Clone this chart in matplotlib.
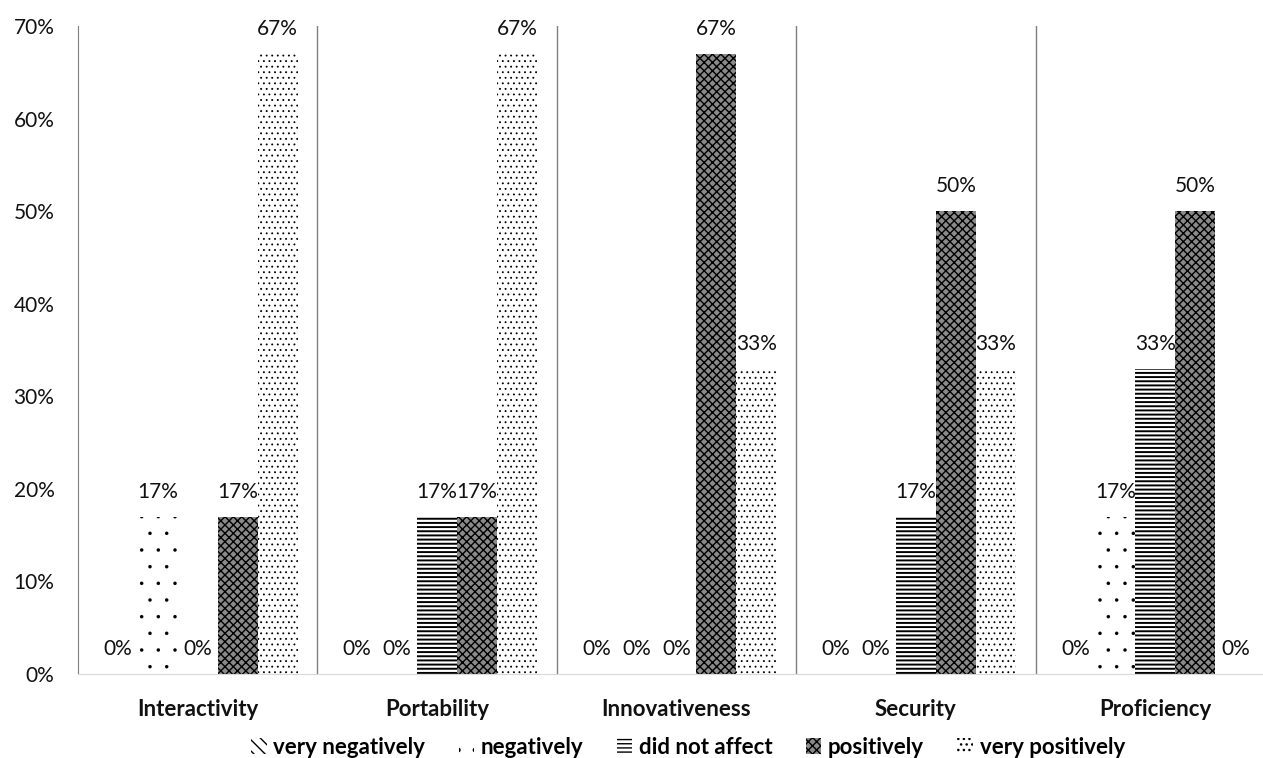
import matplotlib
matplotlib.use("Agg")
import matplotlib.pyplot as plt
import matplotlib.patches as mpatches
import numpy as np

plt.rcParams['font.family'] = ['Lato', 'DejaVu Sans']

categories = ["Interactivity", "Portability", "Innovativeness", "Security", "Proficiency"]
series_names = ["very negatively", "negatively", "did not affect", "positively", "very positively"]
very_negatively = [0, 0, 0, 0, 0]
negatively = [17, 0, 0, 0, 17]
did_not_affect = [0, 17, 0, 17, 33]
positively = [17, 17, 67, 50, 50]
very_positively = [67, 67, 33, 33, 0]
series = [very_negatively, negatively, did_not_affect, positively, very_positively]

# pattern per series (facecolor, hatch, hatch linewidth)
styles = [("white", "\\\\\\", 1.0), ("white", ".", 0.1), ("white", "----", 1.4),
          ("#8a8a8a", "xxxx", 1.0), ("white", "...", 0.6)]

W, H = 1263, 758
fig = plt.figure(figsize=(W / 100, H / 100), dpi=100)
ax = fig.add_axes([78 / W, 84 / H, 1197 / W, 648 / H])

x = np.arange(len(categories))
bw = 0.167
for i, (vals, (fc, hatch, hlw)) in enumerate(zip(series, styles)):
    pos = x + (i - 2) * bw
    with plt.rc_context({'hatch.linewidth': hlw}):
        ax.bar(pos, vals, bw, color=fc, hatch=hatch, edgecolor="black", linewidth=0)
    for p, v in zip(pos, vals):
        ax.text(p, v + 1.6, f"{v}%", ha="center", va="bottom", fontsize=15, color="#111111")

ax.set_xlim(-0.5, 4.5)
ax.set_ylim(0, 70)
ax.set_yticks(range(0, 71, 10))
ax.set_yticklabels([f"{v}%" for v in range(0, 71, 10)], fontsize=15, color="#111111")
ax.set_xticks(x)
ax.set_xticklabels(categories, fontsize=16, fontweight="bold", color="#111111")
ax.tick_params(axis="both", length=0)
ax.tick_params(axis="x", pad=18)
ax.tick_params(axis="y", pad=17)

for b in [0.5, 1.5, 2.5, 3.5]:
    ax.axvline(b, color="#7f7f7f", linewidth=1)
for s in ["top", "right"]:
    ax.spines[s].set_visible(False)
ax.spines["left"].set_color("#7f7f7f")
ax.spines["bottom"].set_color("#d9d9d9")

handles = []
for (fc, h, hlw), n in zip(styles, series_names):
    with plt.rc_context({'hatch.linewidth': hlw}):
        handles.append(mpatches.Patch(facecolor=fc, hatch=h, edgecolor="black", linewidth=0, label=n))
fig.legend(handles=handles, loc="center", bbox_to_anchor=(688 / W, 1 - 747 / H), ncol=5,
           frameon=False, handlelength=0.7, handleheight=0.7, handletextpad=0.3,
           columnspacing=1.5, prop={"weight": "bold", "size": 16})

fig.savefig("out.png", dpi=100)
